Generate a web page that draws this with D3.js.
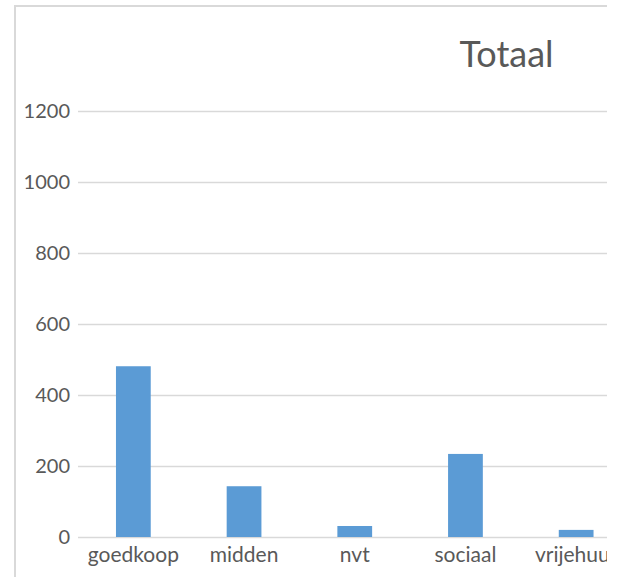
<!DOCTYPE html>
<html><head><meta charset="utf-8">
<script src="https://cdn.jsdelivr.net/npm/d3@7"></script>
<style>body{margin:0;background:#fff;}svg{display:block;}</style>
</head><body>
<script>
const categories = ["goedkoop", "midden", "nvt", "sociaal", "vrijehuur"];
const values = [481, 143, 31, 234, 20];
const yTicks = [0, 200, 400, 600, 800, 1000, 1200];
const title = "Totaal";

const W = 622, H = 577;
const svg = d3.select("body").append("svg").attr("width", W).attr("height", H);
const clipW = 607;
svg.append("clipPath").attr("id","c").append("rect").attr("x",0).attr("y",0).attr("width",clipW).attr("height",H);
const g = svg.append("g").attr("clip-path","url(#c)");

// chart border
g.append("path").attr("d", `M15,${H} L15,6 L${W+10},6`).attr("fill","none").attr("stroke","#d9d9d9").attr("stroke-width",2);

const x = d3.scaleBand().domain(categories).range([78, 78 + 110.7*5]).paddingInner(0.686).paddingOuter(0.343);
const y = d3.scaleLinear().domain([0, 1200]).range([537, 111]);

// gridlines
const yAxis = d3.axisLeft(y).tickValues(yTicks).tickFormat(d3.format("d")).tickSize(-(W)).tickPadding(8);
const ya = g.append("g").attr("transform","translate(78,0)").call(yAxis);
ya.select(".domain").remove();
ya.selectAll(".tick line").attr("stroke","#d9d9d9").attr("stroke-width",1.5);
ya.selectAll(".tick text").attr("fill","#595959").style("font-family","Lato").style("font-size","20px").attr("x",-8);

// bars
g.selectAll("rect.bar").data(values).join("rect").attr("class","bar")
 .attr("x",(d,i)=>x(categories[i])).attr("width",x.bandwidth())
 .attr("y",d=>y(d)).attr("height",d=>y(0)-y(d)).attr("fill","#5b9bd5");

// x axis labels
const xAxis = d3.axisBottom(x).tickSize(0).tickPadding(10);
const xa = g.append("g").attr("transform","translate(0,537)").call(xAxis);
xa.select(".domain").remove();
xa.selectAll(".tick text").attr("fill","#595959").style("font-family","Lato").style("font-size","21px");

// title
g.append("text").attr("x",506.5).attr("y",67).attr("text-anchor","middle")
 .attr("fill","#595959").style("font-family","Lato").style("font-size","36px").text(title);
</script>
</body></html>
